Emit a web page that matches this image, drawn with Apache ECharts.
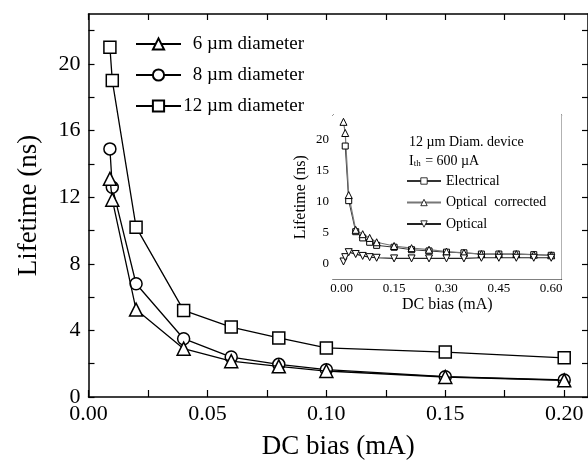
<!DOCTYPE html>
<html><head><meta charset="utf-8">
<script src="https://cdn.jsdelivr.net/npm/echarts@6/dist/echarts.min.js"></script>
<style>html,body{margin:0;padding:0;background:#fff}#c{width:588px;height:466px}</style>
</head><body><div id="c"></div><script>
// ---- main plot data ----
const mainX = [0.009, 0.01, 0.02, 0.04, 0.06, 0.08, 0.10, 0.15, 0.20];
const life6um = [13.1, 11.85, 5.25, 2.9, 2.15, 1.84, 1.56, 1.2, 1.0];
const life8um = [14.9, 12.6, 6.8, 3.5, 2.4, 1.96, 1.64, 1.22, 1.02];
const life12um = [21.0, 19.0, 10.2, 5.2, 4.2, 3.55, 2.95, 2.7, 2.35];
const mainNames = ['6 \u00b5m diameter', '8 \u00b5m diameter', '12 \u00b5m diameter'];
const mainXTickLabels = [0, 0.05, 0.10, 0.15, 0.20];
const mainXTicks = [0, 0.025, 0.05, 0.075, 0.10, 0.125, 0.15, 0.175, 0.20];
const mainYTickLabels = [0, 4, 8, 12, 16, 20];
const mainYTicks = [0, 2, 4, 6, 8, 10, 12, 14, 16, 18, 20, 22];
// ---- inset data ----
const elecX = [0.01, 0.02, 0.04, 0.06, 0.08, 0.10, 0.15, 0.20, 0.25, 0.30, 0.35, 0.40, 0.45, 0.50, 0.55, 0.60];
const electrical = [19.0, 10.2, 5.2, 4.2, 3.5, 3.0, 2.7, 2.3, 2.1, 1.9, 1.8, 1.6, 1.6, 1.6, 1.5, 1.4];
const optX = [0.005, 0.01, 0.02, 0.04, 0.06, 0.08, 0.10, 0.15, 0.20, 0.25, 0.30, 0.35, 0.40, 0.45, 0.50, 0.55, 0.60];
const opticalCorrected = [22.9, 21.1, 11.1, 5.5, 4.8, 4.2, 3.5, 2.9, 2.55, 2.3, 2.0, 1.8, 1.6, 1.6, 1.6, 1.5, 1.4];
const optical = [0.4, 1.1, 1.9, 1.6, 1.3, 1.1, 1.0, 0.9, 0.9, 0.9, 0.9, 0.9, 1.0, 1.0, 1.0, 1.0, 1.0];
const insetNames = ['Electrical', 'Optical  corrected', 'Optical'];
const insetXTickLabels = [0, 0.15, 0.30, 0.45, 0.60];
const insetXTicks = [0, 0.075, 0.15, 0.225, 0.30, 0.375, 0.45, 0.525, 0.60];
const insetYTickLabels = [0, 5, 10, 15, 20];
const insetYTicks = [-2.5, 0, 2.5, 5, 7.5, 10, 12.5, 15, 17.5, 20, 22.5];

const F = 'Liberation Serif';
const pairs = (xs, ys) => xs.map((x, i) => [x, ys[i]]);

const chart = echarts.init(document.getElementById('c'), null, {renderer: 'canvas'});

function xAx(opt) {
  return Object.assign({
    type: 'value',
    axisLine: {show: true, onZero: false, lineStyle: {color: '#000', width: 1.5}},
    splitLine: {show: false},
    axisTick: {show: true, inside: true, length: 6, lineStyle: {color: '#000', width: 1.2}},
  }, opt);
}

const option = {
  backgroundColor: '#fff',
  animation: false,
  grid: [
    {left: 88.5, top: 14, right: 0, bottom: 69},
    {left: 333, top: 115, width: 228.7, height: 164.5, show: true, backgroundColor: '#fff', borderWidth: 0, z: 5}
  ],
  legend: [
    {
      data: mainNames, orient: 'vertical', left: 135, top: 34.5, padding: 0,
      itemWidth: 45, itemHeight: 14, itemGap: 12,
      formatter: n => '{n|' + n + '}',
      textStyle: {fontFamily: F, fontSize: 19, color: '#000',
        rich: {n: {fontFamily: F, fontSize: 19, color: '#000', width: 118, align: 'right'}}}
    },
    {
      data: insetNames, orient: 'vertical', left: 406, top: 174, padding: 0,
      itemWidth: 34, itemHeight: 8, itemGap: 7.5, z: 10,
      itemStyle: {color: '#fff', borderColor: '#000', borderWidth: 0.8},
      textStyle: {fontFamily: F, fontSize: 14, color: '#000'}
    }
  ],
  xAxis: [
    xAx({gridIndex: 0, position: 'bottom', min: 0, max: 0.21,
      name: 'DC bias (mA)', nameLocation: 'middle', nameGap: 36,
      nameTextStyle: {fontFamily: F, fontSize: 27, color: '#000'},
      axisTick: {show: true, inside: true, length: 7, customValues: mainXTicks, lineStyle: {color: '#000', width: 1.2}},
      axisLabel: {customValues: mainXTickLabels, formatter: v => v.toFixed(2), fontFamily: F, fontSize: 22, color: '#000', margin: 6}}),
    xAx({gridIndex: 0, position: 'top', min: 0, max: 0.21,
      axisTick: {show: true, inside: true, length: 6, customValues: mainXTicks, lineStyle: {color: '#000', width: 1.2}},
      axisLabel: {show: false}}),
    xAx({gridIndex: 1, position: 'bottom', min: -0.025, max: 0.63,
      name: 'DC bias (mA)', nameLocation: 'middle', nameGap: 17,
      nameTextStyle: {fontFamily: F, fontSize: 16, color: '#000'},
      axisLine: {show: true, onZero: false, lineStyle: {color: '#000', width: 1}},
      axisTick: {show: true, inside: true, length: 4, customValues: insetXTicks, lineStyle: {color: '#000', width: 1}},
      axisLabel: {customValues: insetXTickLabels, formatter: v => v.toFixed(2), fontFamily: F, fontSize: 13, color: '#000', margin: 3}}),
    xAx({gridIndex: 1, position: 'top', min: -0.025, max: 0.63,
      axisLine: {show: true, onZero: false, lineStyle: {color: '#000', width: 1}},
      axisTick: {show: true, inside: true, length: 3, customValues: insetXTicks, lineStyle: {color: '#000', width: 1}},
      axisLabel: {show: false}})
  ],
  yAxis: [
    xAx({gridIndex: 0, position: 'left', min: 0, max: 23,
      name: 'Lifetime (ns)', nameLocation: 'middle', nameGap: 46,
      nameTextStyle: {fontFamily: F, fontSize: 27, color: '#000'},
      axisTick: {show: true, inside: true, length: 6, customValues: mainYTicks, lineStyle: {color: '#000', width: 1.2}},
      axisLabel: {customValues: mainYTickLabels, fontFamily: F, fontSize: 22, color: '#000', margin: 8}}),
    xAx({gridIndex: 0, position: 'right', min: 0, max: 23,
      axisTick: {show: true, inside: true, length: 6, customValues: mainYTicks, lineStyle: {color: '#000', width: 1.2}},
      axisLabel: {show: false}}),
    xAx({gridIndex: 1, position: 'left', min: -2.5, max: 24,
      name: 'Lifetime (ns)', nameLocation: 'middle', nameGap: 24,
      nameTextStyle: {fontFamily: F, fontSize: 16, color: '#000'},
      axisLine: {show: true, onZero: false, lineStyle: {color: '#000', width: 1}},
      axisTick: {show: true, inside: true, length: 4, customValues: insetYTicks, lineStyle: {color: '#000', width: 1}},
      axisLabel: {customValues: insetYTickLabels, fontFamily: F, fontSize: 13, color: '#000', margin: 4}}),
    xAx({gridIndex: 1, position: 'right', min: -2.5, max: 24,
      axisLine: {show: true, onZero: false, lineStyle: {color: '#000', width: 1}},
      axisTick: {show: true, inside: true, length: 3, customValues: insetYTicks, lineStyle: {color: '#000', width: 1}},
      axisLabel: {show: false}})
  ],
  graphic: [
    {type: 'text', left: 409, top: 135, z: 20, style: {text: '12 \u00b5m Diam. device', fontFamily: F, fontSize: 14, fill: '#000'}},
    {type: 'text', left: 409, top: 154, z: 20, style: {
      text: '{a|I}{b|th}{a| = 600 \u00b5A}',
      rich: {a: {fontFamily: F, fontSize: 14, fill: '#000', lineHeight: 16, verticalAlign: 'bottom'},
             b: {fontFamily: F, fontSize: 9, fill: '#000', lineHeight: 16, verticalAlign: 'bottom', padding: [0, 1, 0, 0]}}}}
  ],
  series: [
    {name: mainNames[0], type: 'line', xAxisIndex: 0, yAxisIndex: 0, data: pairs(mainX, life6um),
      symbol: 'triangle', symbolSize: 13, z: 4,
      lineStyle: {color: '#000', width: 1.3}, itemStyle: {color: '#fff', borderColor: '#000', borderWidth: 1.5}},
    {name: mainNames[1], type: 'line', xAxisIndex: 0, yAxisIndex: 0, data: pairs(mainX, life8um),
      symbol: 'circle', symbolSize: 12, z: 3,
      lineStyle: {color: '#000', width: 1.3}, itemStyle: {color: '#fff', borderColor: '#000', borderWidth: 1.5}},
    {name: mainNames[2], type: 'line', xAxisIndex: 0, yAxisIndex: 0, data: pairs(mainX, life12um),
      symbol: 'rect', symbolSize: 12, z: 3,
      lineStyle: {color: '#000', width: 1.3}, itemStyle: {color: '#fff', borderColor: '#000', borderWidth: 1.5}},
    {name: insetNames[0], type: 'line', xAxisIndex: 2, yAxisIndex: 2, data: pairs(elecX, electrical),
      symbol: 'rect', symbolSize: 6, z: 12,
      lineStyle: {color: '#333', width: 1}, itemStyle: {color: '#fff', borderColor: '#000', borderWidth: 1}},
    {name: insetNames[1], type: 'line', xAxisIndex: 2, yAxisIndex: 2, data: pairs(optX, opticalCorrected),
      symbol: 'triangle', symbolSize: 7, z: 12,
      lineStyle: {color: '#777', width: 1.2}, itemStyle: {color: '#fff', borderColor: '#000', borderWidth: 1}},
    {name: insetNames[2], type: 'line', xAxisIndex: 2, yAxisIndex: 2, data: pairs(optX, optical),
      symbol: 'triangle', symbolRotate: 180, symbolSize: 7, z: 12,
      lineStyle: {color: '#222', width: 1.2}, itemStyle: {color: '#fff', borderColor: '#000', borderWidth: 1}}
  ]
};
chart.setOption(option);
</script></body></html>
